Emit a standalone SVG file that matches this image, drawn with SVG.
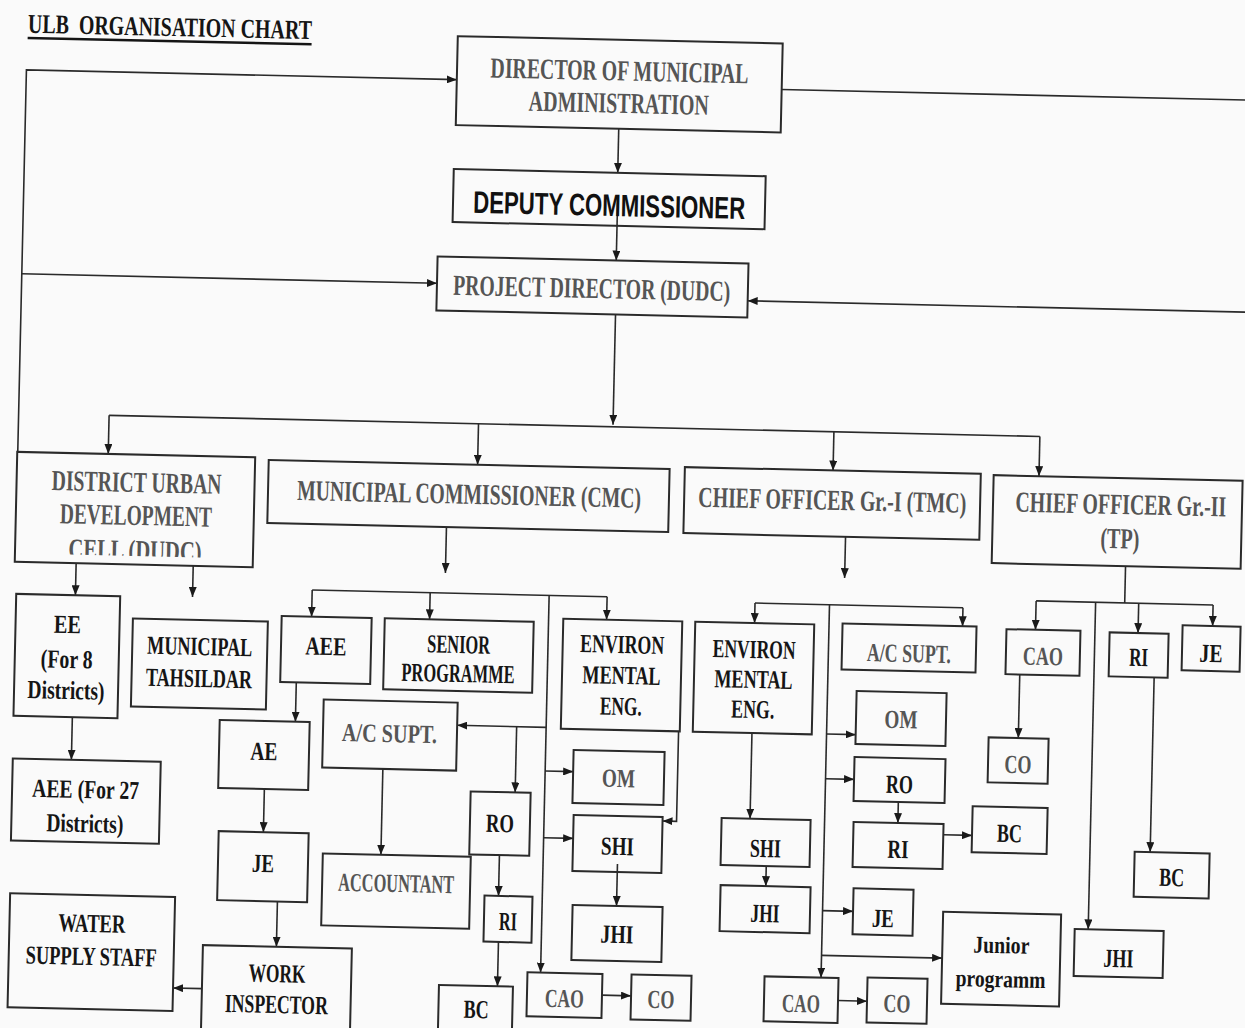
<svg xmlns="http://www.w3.org/2000/svg" width="1245" height="1028" viewBox="0 0 1245 1028">
<style>
rect.n{fill:none;stroke:#2a2a2a;stroke-width:2}
text{font-family:"Liberation Serif","Times New Roman",serif;font-weight:bold;text-anchor:middle}
.h{font-size:29px;fill:#555}
.b{font-size:26px;fill:#151515}
.g{font-size:26px;fill:#555}
.ttl{font-size:27px;fill:#151515;text-anchor:start}
.dc{font-family:"Liberation Sans",Arial,sans-serif;font-size:31px;fill:#111}
.jp{font-size:24px;fill:#151515}
#conn path{fill:none;stroke:#2a2a2a;stroke-width:1.6}
#conn path.a{marker-end:url(#ah)}
</style>
<defs>
<marker id="ah" markerUnits="userSpaceOnUse" viewBox="0 0 10 8" markerWidth="10" markerHeight="8" refX="10" refY="4" orient="auto">
<path d="M0,0 L10,4 L0,8 z" fill="#1a1a1a"/>
</marker>
<clipPath id="clDudc"><rect x="16" y="540" width="238" height="27"/></clipPath>
</defs>
<rect x="0" y="0" width="1245" height="1028" fill="#fafafa"/>
<g transform="rotate(1.3 622 514)">
<g id="title">
<text class="ttl" x="17" y="46.3" textLength="284" lengthAdjust="spacingAndGlyphs" xml:space="preserve">ULB  ORGANISATION CHART</text>
<line x1="17" y1="51.5" x2="301" y2="51.5" stroke="#151515" stroke-width="2.5"/>
</g>
<g id="conn">
<path class="a" d="M610,129 V173"/>
<path class="a" d="M610.5,203 V260.7"/>
<path class="a" d="M16.5,466 V83.5 H447"/>
<path class="a" d="M16.5,287.5 H431.8"/>
<path d="M772,86 H1300"/>
<path class="a" d="M1300,298 H742.8"/>
<path class="a" d="M611,314.7 V425"/>
<path d="M107,427 H1038"/>
<path class="a" d="M107,427 V465.6"/>
<path class="a" d="M476.5,427 V468"/>
<path class="a" d="M832,427 V465.7"/>
<path class="a" d="M1038,427 V466.7"/>
<path class="a" d="M77.4,575.6 V607.6"/>
<path class="a" d="M194.5,575.6 V606.7"/>
<path class="a" d="M77.1,729.6 V772.2"/>
<path class="a" d="M446.8,531 V577"/>
<path d="M314,597 H609"/>
<path class="a" d="M314,597 V623.7"/>
<path class="a" d="M432,597 V623.7"/>
<path class="a" d="M609,597 V620"/>
<path class="a" d="M551,597 V974.3"/>
<path class="a" d="M551,729 H462"/>
<path class="a" d="M521.5,729 V794.8"/>
<path class="a" d="M551,772.7 H579"/>
<path class="a" d="M551,839.4 H580.5"/>
<path class="a" d="M683.5,730 V820 H669.5"/>
<path class="a" d="M625.4,864 V906"/>
<path class="a" d="M388.7,774.3 V860.1"/>
<path class="a" d="M507.2,857.8 V898.6"/>
<path class="a" d="M508.2,944.6 V989"/>
<path class="a" d="M612.9,995.5 H642"/>
<path class="a" d="M300.2,689.7 V729.1"/>
<path class="a" d="M270.7,797.1 V840.2"/>
<path class="a" d="M286.3,909.2 V954.5"/>
<path class="a" d="M212.8,998 H183.9"/>
<path class="a" d="M846,531.7 V573"/>
<path d="M757,600 H965"/>
<path class="a" d="M757,600 V620"/>
<path class="a" d="M965,600 V618.5"/>
<path class="a" d="M831.5,600 V973"/>
<path class="a" d="M831.5,729.3 H860.6"/>
<path class="a" d="M831.5,774 H860"/>
<path class="a" d="M831.5,906 H862"/>
<path class="a" d="M831.5,950.7 H952.1"/>
<path class="a" d="M756.9,730 V815.7"/>
<path class="a" d="M774.2,862.7 V882.8"/>
<path class="a" d="M904.8,795.7 V816.7"/>
<path class="a" d="M950.5,827.4 H979.2"/>
<path class="a" d="M849,995.5 H878"/>
<path d="M1126.6,554.7 V591.5"/>
<path d="M1038,591.5 H1215"/>
<path class="a" d="M1038,591.5 V620.4"/>
<path class="a" d="M1140.6,591.5 V621.3"/>
<path class="a" d="M1215,591.5 V612.6"/>
<path class="a" d="M1097.5,591.5 V918.7"/>
<path class="a" d="M1023.3,665.4 V729"/>
<path class="a" d="M1157.7,665.3 V840"/>
</g>
<g id="n-dir"><rect class="n" x="447" y="40" width="325" height="89"/>
<text class="h" x="609.5" y="80.6" textLength="258" lengthAdjust="spacingAndGlyphs">DIRECTOR OF MUNICIPAL</text>
<text class="h" x="609.5" y="113" textLength="180" lengthAdjust="spacingAndGlyphs">ADMINISTRATION</text></g>
<g id="n-dep"><rect class="n" x="446" y="173" width="312" height="53"/>
<text class="dc" x="602.2" y="216.3" textLength="272" lengthAdjust="spacingAndGlyphs">DEPUTY COMMISSIONER</text></g>
<g id="n-pd"><rect class="n" x="431.8" y="260.7" width="311" height="54"/>
<text class="h" x="586.6" y="298.7" textLength="277" lengthAdjust="spacingAndGlyphs">PROJECT DIRECTOR (DUDC)</text></g>
<g id="n-dudc"><rect class="n" x="16" y="465.6" width="238" height="110"/>
<text class="h" x="136" y="503" textLength="170" lengthAdjust="spacingAndGlyphs">DISTRICT URBAN</text>
<text class="h" x="136" y="536" textLength="152" lengthAdjust="spacingAndGlyphs">DEVELOPMENT</text>
<text class="h" x="136" y="571" textLength="133" lengthAdjust="spacingAndGlyphs" clip-path="url(#clDudc)">CELL (DUDC)</text></g>
<g id="n-cmc"><rect class="n" x="267.6" y="468" width="401" height="63"/>
<text class="h" x="468.7" y="507.3" textLength="344" lengthAdjust="spacingAndGlyphs">MUNICIPAL COMMISSIONER (CMC)</text></g>
<g id="n-gr1"><rect class="n" x="683.8" y="465.7" width="296" height="66"/>
<text class="h" x="831.9" y="505" textLength="268" lengthAdjust="spacingAndGlyphs">CHIEF OFFICER Gr.-I (TMC)</text></g>
<g id="n-gr2"><rect class="n" x="992.7" y="466.7" width="249" height="88"/>
<text class="h" transform="translate(1120.5 502.7) scale(0.68 1)" x="0" y="0" textLength="310" lengthAdjust="spacingAndGlyphs">CHIEF OFFICER Gr.-II</text>
<text class="h" x="1120.3" y="537" textLength="39" lengthAdjust="spacingAndGlyphs">(TP)</text></g>
<g id="n-ee"><rect class="n" x="18.2" y="607.6" width="104" height="122"/>
<text class="b" x="70.2" y="645.5" textLength="27" lengthAdjust="spacingAndGlyphs">EE</text>
<text class="b" x="70.2" y="680.5" textLength="52" lengthAdjust="spacingAndGlyphs">(For 8</text>
<text class="b" x="70.2" y="711.5" textLength="77" lengthAdjust="spacingAndGlyphs">Districts)</text></g>
<g id="n-tah"><rect class="n" x="135.4" y="629.6" width="135" height="88"/>
<text class="b" x="202.9" y="664.6" textLength="105" lengthAdjust="spacingAndGlyphs">MUNICIPAL</text>
<text class="b" x="202.9" y="696.6" textLength="106" lengthAdjust="spacingAndGlyphs">TAHSILDAR</text></g>
<g id="n-aee27"><rect class="n" x="18.5" y="772.2" width="148" height="82"/>
<text class="b" x="92" y="810.2" textLength="107" lengthAdjust="spacingAndGlyphs">AEE (For 27</text>
<text class="b" x="92" y="844.2" textLength="77" lengthAdjust="spacingAndGlyphs">Districts)</text></g>
<g id="n-aee"><rect class="n" x="284.1" y="623.7" width="90" height="66"/>
<text class="b" x="329" y="661.7" textLength="41" lengthAdjust="spacingAndGlyphs">AEE</text></g>
<g id="n-sp"><rect class="n" x="387.2" y="623.7" width="149" height="71"/>
<text class="b" x="461.7" y="656.7" textLength="63" lengthAdjust="spacingAndGlyphs">SENIOR</text>
<text class="b" x="461.7" y="685.7" textLength="113" lengthAdjust="spacingAndGlyphs">PROGRAMME</text></g>
<g id="n-env1"><rect class="n" x="565.7" y="620" width="119" height="110"/>
<text class="b" x="625.2" y="653" textLength="84" lengthAdjust="spacingAndGlyphs">ENVIRON</text>
<text class="b" x="625.2" y="684" textLength="78" lengthAdjust="spacingAndGlyphs">MENTAL</text>
<text class="b" x="625.2" y="715" textLength="42" lengthAdjust="spacingAndGlyphs">ENG.</text></g>
<g id="n-acs1"><rect class="n" x="328" y="706.3" width="134" height="68"/>
<text class="g" x="394.5" y="747.3" textLength="95" lengthAdjust="spacingAndGlyphs">A/C SUPT.</text></g>
<g id="n-ro1"><rect class="n" x="477" y="794.8" width="60" height="63"/>
<text class="b" x="507" y="834.8" textLength="28" lengthAdjust="spacingAndGlyphs">RO</text></g>
<g id="n-om1"><rect class="n" x="579" y="751" width="91" height="53"/>
<text class="g" x="624.5" y="787" textLength="33" lengthAdjust="spacingAndGlyphs">OM</text></g>
<g id="n-shi1"><rect class="n" x="580.5" y="816" width="89" height="56"/>
<text class="b" x="625" y="855" textLength="33" lengthAdjust="spacingAndGlyphs">SHI</text></g>
<g id="n-jhi1"><rect class="n" x="581.5" y="906" width="90" height="55"/>
<text class="b" x="626.5" y="943" textLength="33" lengthAdjust="spacingAndGlyphs">JHI</text></g>
<g id="n-acc"><rect class="n" x="330.6" y="860.1" width="148" height="72"/>
<text class="g" x="404.6" y="897" textLength="116" lengthAdjust="spacingAndGlyphs">ACCOUNTANT</text></g>
<g id="n-ri1"><rect class="n" x="493.2" y="898.6" width="48" height="46"/>
<text class="b" x="517.2" y="932.6" textLength="18" lengthAdjust="spacingAndGlyphs">RI</text></g>
<g id="n-bc1"><rect class="n" x="449.7" y="989" width="74" height="60"/>
<text class="b" x="487.4" y="1021.3" textLength="25" lengthAdjust="spacingAndGlyphs">BC</text></g>
<g id="n-cao1"><rect class="n" x="537.9" y="974.3" width="75" height="44"/>
<text class="g" x="575.4" y="1008.3" textLength="39" lengthAdjust="spacingAndGlyphs">CAO</text></g>
<g id="n-co1"><rect class="n" x="642" y="974.1" width="60" height="45"/>
<text class="g" x="672" y="1007" textLength="27" lengthAdjust="spacingAndGlyphs">CO</text></g>
<g id="n-ae"><rect class="n" x="224.5" y="729.1" width="90" height="68"/>
<text class="b" x="269.5" y="768" textLength="27" lengthAdjust="spacingAndGlyphs">AE</text></g>
<g id="n-je1"><rect class="n" x="226" y="840.2" width="90" height="69"/>
<text class="b" x="271" y="880" textLength="22" lengthAdjust="spacingAndGlyphs">JE</text></g>
<g id="n-work"><rect class="n" x="212.8" y="954.5" width="149" height="100"/>
<text class="b" x="287.6" y="989.8" textLength="57" lengthAdjust="spacingAndGlyphs">WORK</text>
<text class="b" x="287.6" y="1020.8" textLength="103" lengthAdjust="spacingAndGlyphs">INSPECTOR</text></g>
<g id="n-water"><rect class="n" x="18.9" y="907" width="165" height="114"/>
<text class="b" x="101.4" y="944" textLength="67" lengthAdjust="spacingAndGlyphs">WATER</text>
<text class="b" x="101.4" y="977" textLength="131" lengthAdjust="spacingAndGlyphs">SUPPLY STAFF</text></g>
<g id="n-env2"><rect class="n" x="697.7" y="620" width="119" height="110"/>
<text class="b" x="757.2" y="655" textLength="83" lengthAdjust="spacingAndGlyphs">ENVIRON</text>
<text class="b" x="757.2" y="685" textLength="78" lengthAdjust="spacingAndGlyphs">MENTAL</text>
<text class="b" x="757.2" y="715" textLength="43" lengthAdjust="spacingAndGlyphs">ENG.</text></g>
<g id="n-acs2"><rect class="n" x="845" y="618.5" width="134" height="46"/>
<text class="g" x="912" y="655.5" textLength="84" lengthAdjust="spacingAndGlyphs">A/C SUPT.</text></g>
<g id="n-om2"><rect class="n" x="860.6" y="685.7" width="90" height="53"/>
<text class="g" x="905.6" y="721.7" textLength="33" lengthAdjust="spacingAndGlyphs">OM</text></g>
<g id="n-ro2"><rect class="n" x="860" y="751.7" width="91" height="44"/>
<text class="b" x="905.5" y="786.7" textLength="27" lengthAdjust="spacingAndGlyphs">RO</text></g>
<g id="n-ri2"><rect class="n" x="860.5" y="816.7" width="90" height="45"/>
<text class="b" x="905.5" y="851.7" textLength="21" lengthAdjust="spacingAndGlyphs">RI</text></g>
<g id="n-bc2"><rect class="n" x="979.2" y="798.2" width="75" height="46"/>
<text class="b" x="1016.7" y="833.2" textLength="25" lengthAdjust="spacingAndGlyphs">BC</text></g>
<g id="n-shi2"><rect class="n" x="728.5" y="815.7" width="89" height="47"/>
<text class="b" x="773" y="853.7" textLength="31" lengthAdjust="spacingAndGlyphs">SHI</text></g>
<g id="n-jhi2"><rect class="n" x="729" y="882.8" width="90" height="46"/>
<text class="b" x="774" y="918.7" textLength="29" lengthAdjust="spacingAndGlyphs">JHI</text></g>
<g id="n-je2"><rect class="n" x="862" y="883" width="60" height="46"/>
<text class="b" x="892" y="921" textLength="22" lengthAdjust="spacingAndGlyphs">JE</text></g>
<g id="n-jp"><rect class="n" x="952.1" y="904.4" width="118" height="92"/>
<text class="jp" x="1011.1" y="944.4" textLength="56" lengthAdjust="spacingAndGlyphs">Junior</text>
<text class="jp" x="1011.1" y="978.4" textLength="90" lengthAdjust="spacingAndGlyphs">programm</text></g>
<g id="n-cao2"><rect class="n" x="775" y="973" width="74" height="45"/>
<text class="g" x="812" y="1008" textLength="38" lengthAdjust="spacingAndGlyphs">CAO</text></g>
<g id="n-co2"><rect class="n" x="878" y="971.8" width="60" height="45"/>
<text class="g" x="908" y="1005.8" textLength="27" lengthAdjust="spacingAndGlyphs">CO</text></g>
<g id="n-cao3"><rect class="n" x="1009" y="620.4" width="74" height="45"/>
<text class="g" x="1046" y="655.4" textLength="40" lengthAdjust="spacingAndGlyphs">CAO</text></g>
<g id="n-ri3"><rect class="n" x="1112.2" y="621.3" width="59" height="44"/>
<text class="b" x="1141.7" y="654.3" textLength="19" lengthAdjust="spacingAndGlyphs">RI</text></g>
<g id="n-je3"><rect class="n" x="1185" y="612.6" width="58" height="45"/>
<text class="b" x="1214" y="648.6" textLength="23" lengthAdjust="spacingAndGlyphs">JE</text></g>
<g id="n-co3"><rect class="n" x="993.6" y="729" width="60" height="45"/>
<text class="g" x="1023.6" y="764" textLength="27" lengthAdjust="spacingAndGlyphs">CO</text></g>
<g id="n-bc3"><rect class="n" x="1142.2" y="840" width="75" height="45"/>
<text class="b" x="1179.7" y="873.5" textLength="25" lengthAdjust="spacingAndGlyphs">BC</text></g>
<g id="n-jhi3"><rect class="n" x="1084" y="918.7" width="89" height="47"/>
<text class="b" x="1128.5" y="955.7" textLength="30" lengthAdjust="spacingAndGlyphs">JHI</text></g>
</g>
</svg>
